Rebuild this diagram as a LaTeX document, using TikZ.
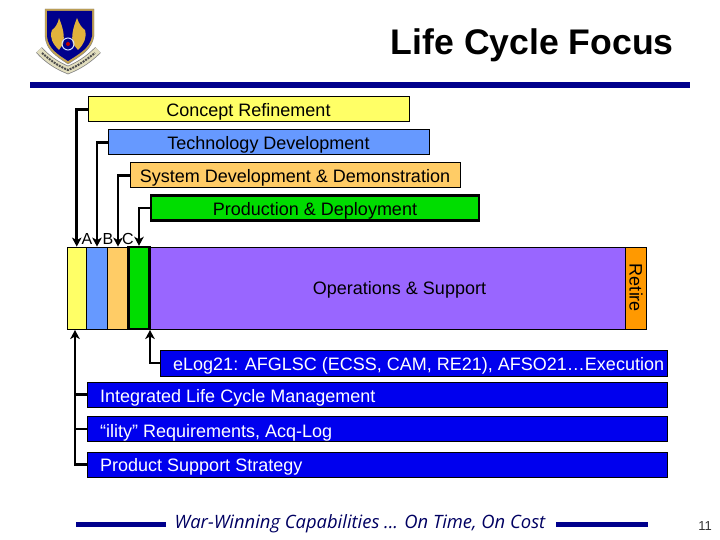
\documentclass[tikz,border=0pt]{standalone}
\usepackage{fontspec}
\setmainfont{Liberation Sans}
\newfontfamily\slogan{Open Sans}
\usepackage{xcolor}
\definecolor{myyellow}{RGB}{255,255,102}
\definecolor{mysky}{RGB}{102,153,255}
\definecolor{mysand}{RGB}{255,204,102}
\definecolor{mygreen}{RGB}{0,221,0}
\definecolor{mypurple}{RGB}{153,102,255}
\definecolor{myorange}{RGB}{255,153,0}
\definecolor{myblue}{RGB}{0,0,238}
\definecolor{mynavy}{RGB}{0,0,140}
\definecolor{mygold}{RGB}{226,178,60}
\definecolor{mycream}{RGB}{226,222,190}
\usetikzlibrary{arrows.meta}

\begin{document}
\begin{tikzpicture}[x=1pt,y=-1pt,line cap=butt]
	\tikzstyle{stage}=[draw,line width=1pt,minimum height=25pt,inner sep=0pt,text height=14pt,text depth=0pt,font=\fontsize{18}{18}\selectfont];
	\tikzstyle{band}=[draw,line width=.8pt,minimum height=82pt,inner sep=0pt];
	\tikzstyle{task}=[draw=black,fill=myblue,line width=.6pt,minimum height=25pt,inner sep=0pt];
	\tikzstyle{tasktext}=[anchor=base west,inner sep=0pt,text=white,font=\fontsize{18}{18}\selectfont];
	\tikzstyle{conn}=[line width=2.6pt,-{Stealth[length=9pt,width=9.5pt,inset=2.5pt]}];
	\tikzstyle{feed}=[line width=2.6pt];
	\tikzstyle{letter}=[inner sep=0pt,font=\fontsize{16}{16}\selectfont];
	\useasboundingbox (0,0) rectangle (720,540);
	\fill[white] (0,0) rectangle (720,540);
	% logo
	\draw[gray,line width=8pt] (39,50) .. controls (48,60) and (58,66) .. (68,70) .. controls (78,66) and (88,60) .. (98,50);
	\draw[mycream,line width=6.5pt] (39,50) .. controls (48,60) and (58,66) .. (68,70) .. controls (78,66) and (88,60) .. (98,50);
	\draw[black!70,line width=2pt,dash pattern=on 2pt off 1pt] (42,53) .. controls (50,60) and (58,66) .. (68,70) .. controls (78,66) and (86,60) .. (95,53);
	\fill[mygold!70!gray,draw=gray] (45,9) -- (94,9) -- (94,36) .. controls (92,50) and (80,56) .. (68,64) .. controls (56,56) and (46,50) .. (45,36) -- cycle;
	\fill[mynavy] (47,11) -- (92,11) -- (92,36) .. controls (90,48) and (79,54) .. (68,61) .. controls (57,54) and (48,48) .. (47,36) -- cycle;
	\fill[mygold] (59,18) .. controls (63,28) and (65,36) .. (63,44) -- (59,50) .. controls (53,44) and (49,38) .. (52,30) .. controls (55,28) and (58,24) .. (59,18) -- cycle;
	\fill[mygold] (77,18) .. controls (73,28) and (71,36) .. (73,44) -- (78,50) .. controls (84,44) and (87,38) .. (85,30) .. controls (82,28) and (79,24) .. (77,18) -- cycle;
	\draw[white!70!mysky,line width=1pt] (68,44) circle (6pt);
	\fill[red!75!black] (68,44) circle (2pt);
	% title
	\fill[mynavy] (30,82) rectangle (690,88);
	\node[anchor=base east,inner sep=0pt,font=\fontsize{35.6}{36}\bfseries\selectfont] (title) at (674,55) {Life Cycle Focus};
	% stages
	\node[stage,fill=myyellow,minimum width=321pt] (concept) at (248.5,109.5) {Concept Refinement};
	\node[stage,fill=mysky,minimum width=321pt] (tech) at (268.5,142.5) {Technology Development};
	\node[stage,fill=mysand,minimum width=330pt] (sysdev) at (295,175.5) {System Development \& Demonstration};
	\node[stage,fill=mygreen,line width=2.8pt,minimum width=328pt] (prod) at (315,208) {Production \& Deployment};
	% bands
	\node[band,fill=mypurple,minimum width=475pt] (ops) at (387.5,288) {};
	\node[inner sep=0pt,anchor=base,font=\fontsize{18}{18}\selectfont] (opstext) at (399.5,294) {Operations \& Support};
	\node[band,fill=myorange,minimum width=21pt] (retire) at (636,288) {};
	\node[inner sep=0pt,rotate=-90,anchor=base,font=\fontsize{18}{18}\selectfont] (retiretext) at (629.5,288) {Retire};
	\node[band,fill=myyellow,minimum width=19.5pt] (bara) at (76.75,288) {};
	\node[band,fill=mysky,minimum width=21pt] (barb) at (97,288) {};
	\node[band,fill=mysand,minimum width=21pt] (barc) at (118,288) {};
	\node[band,fill=mygreen,line width=2.4pt,minimum width=21pt] (bard) at (139,288) {};
	\node[letter] (la) at (87,238.5) {A};
	\node[letter] (lb) at (108,238.5) {B};
	\node[letter] (lc) at (128,238.5) {C};
	% tasks
	\node[task,minimum width=507pt,minimum height=26pt] (elog) at (413.5,363) {};
	\node[tasktext] (elogtext) at (173,370) {eLog21: AFGLSC (ECSS, CAM, RE21), AFSO21\ldots Execution};
	\node[task,minimum width=580pt] (ilcm) at (377,394.5) {};
	\node[tasktext] (ilcmtext) at (100,402) {Integrated Life Cycle Management};
	\node[task,minimum width=580pt] (ility) at (377,429) {};
	\node[tasktext] (ilitytext) at (100,437) {“ility” Requirements, Acq-Log};
	\node[task,minimum width=580pt] (support) at (377,464.5) {};
	\node[tasktext] (supporttext) at (100,471) {Product Support Strategy};
	% connectors
	\coordinate (upa) at (75,330);
	\coordinate (upb) at (150,330);
	\draw[conn] (concept.west) -| (bara.north);
	\draw[conn] (tech.west) -| (barb.north);
	\draw[conn] (sysdev.west) -| (barc.north);
	\draw[conn] (prod.west) -| (bard.north);
	\draw[conn] (elog.west) -| (upb);
	\draw[conn] (support.west) -| (upa);
	\draw[feed] (ilcm.west) -- (ilcm.west -| upa);
	\draw[feed] (ility.west) -- (ility.west -| upa);
	% footer
	\fill[mynavy] (76,521.5) rectangle (166,526.5);
	\fill[mynavy] (556,521.5) rectangle (648,526.5);
	\node[inner sep=0pt,text=mynavy!70!black,font=\slogan\itshape\fontsize{18.4}{18}\selectfont] (slogan) at (360,524) {War-Winning Capabilities ... On Time, On Cost};
	\node[inner sep=0pt,font=\fontsize{13}{13}\selectfont,text=black!80] (pagenum) at (705,526) {11};
\end{tikzpicture}
\end{document}
